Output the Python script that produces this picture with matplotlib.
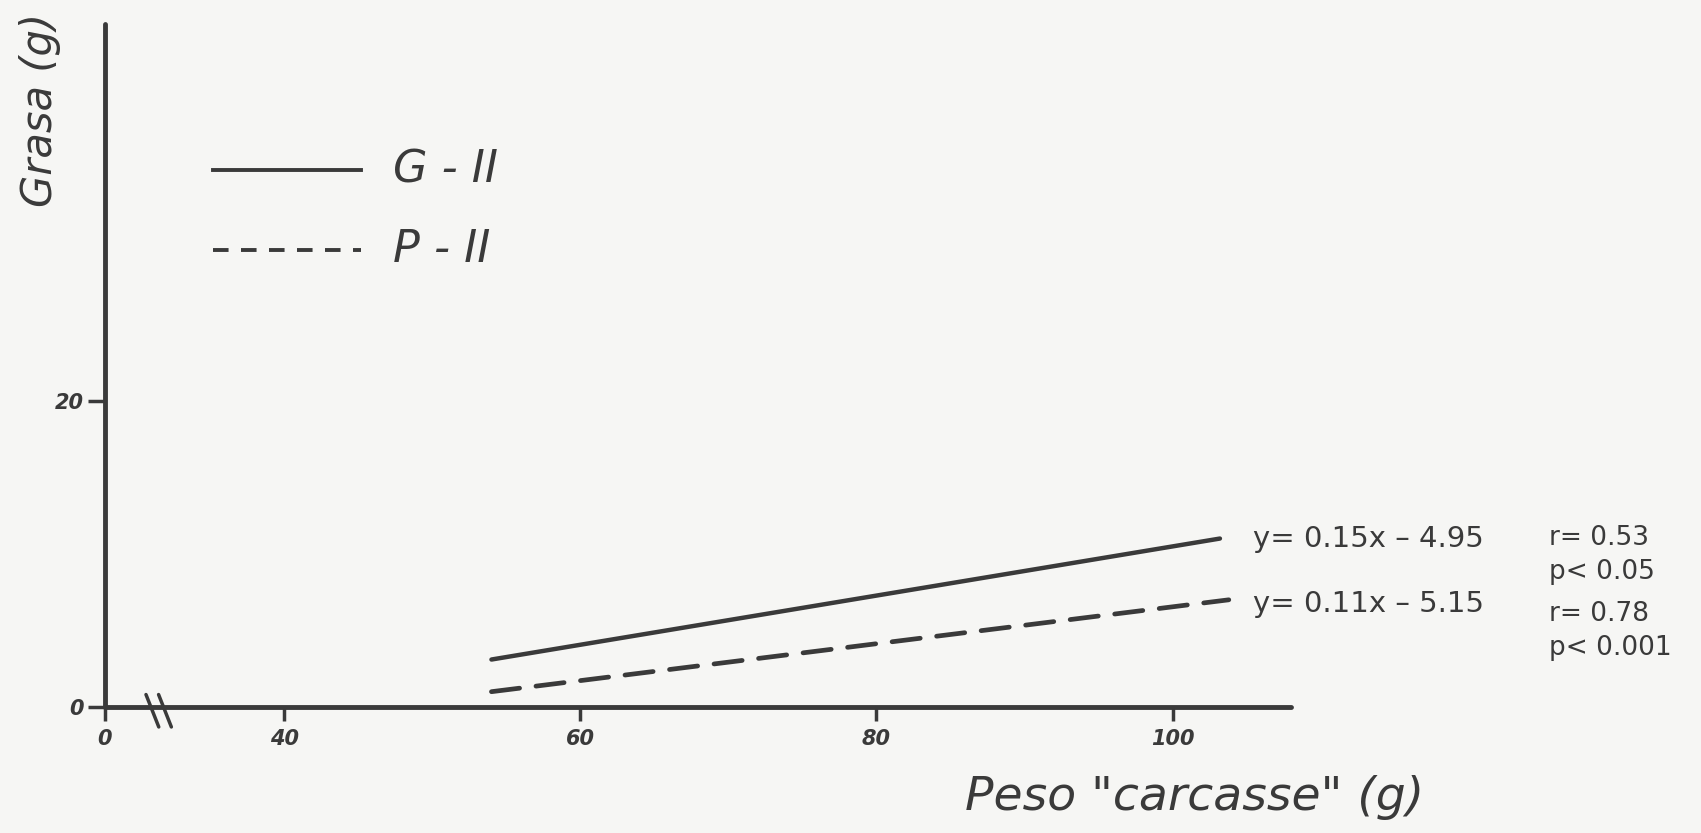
import matplotlib.pyplot as plt
import numpy as np

# regression lines, endpoints
x_g2 = [54.0, 103.2]
y_g2 = [3.1, 11.0]
x_p2 = [54.0, 103.8]
y_p2 = [1.0, 7.0]

xticks = [40, 60, 80, 100]
yticks = [0, 20]
x_zero = 27.9      # where "0" sits on the broken x axis
x_break = 31.1
xlim = (x_zero, 108.0)
ylim = (0, 44.6)

eq_g2 = "y= 0.15x – 4.95"
eq_p2 = "y= 0.11x – 5.15"
stats_g2 = ["r= 0.53", "p< 0.05"]
stats_p2 = ["r= 0.78", "p< 0.001"]

ink = '#3a3a3a'
paper = '#f6f6f4'

W, H = 1701, 833
fig = plt.figure(figsize=(W/100, H/100), dpi=100, facecolor=paper)
ax = fig.add_axes([105/W, (H-707)/H, (1291-105)/W, (707-24)/H])
ax.set_facecolor(paper)
ax.set_xlim(*xlim)
ax.set_ylim(*ylim)

ax.plot(x_g2, y_g2, color=ink, lw=3.2, solid_capstyle='round')
ax.plot(x_p2, y_p2, color=ink, lw=3.4, ls=(0, (6, 3.5)), dash_capstyle='round')

for s in ['top', 'right']:
    ax.spines[s].set_visible(False)
for s in ['left', 'bottom']:
    ax.spines[s].set_linewidth(3.5)
    ax.spines[s].set_color(ink)
    ax.spines[s].set_capstyle('round')

ax.set_xticks([x_zero] + xticks)
ax.set_xticklabels(['0'] + [str(t) for t in xticks])
ax.set_yticks(yticks)
ax.set_yticklabels([str(t) for t in yticks])
ax.tick_params(axis='x', direction='out', length=10, width=2.5, color=ink, pad=6,
               labelsize=15, labelcolor=ink)
ax.tick_params(axis='y', direction='out', length=12, width=2.5, color=ink, pad=3,
               labelsize=15, labelcolor=ink)
for lab in ax.get_xticklabels() + ax.get_yticklabels():
    lab.set_fontstyle('italic')
    lab.set_fontweight('bold')

# axis break marks "//"
trans = ax.get_xaxis_transform()
for dx in [0, 0.85]:
    xb = x_break - 0.5 + dx
    ax.annotate('', xy=(xb + 1.0, -0.033), xytext=(xb, 0.022), xycoords=trans,
                textcoords=trans, arrowprops=dict(arrowstyle='-', color=ink, lw=2.5),
                annotation_clip=False)

# legend drawn by hand like the original
lx0, lx1 = 213, 361
for ypix, ls, name in [(170, '-', 'G - II'), (250, (0, (4, 3.2)), 'P - II')]:
    fy = (H - ypix) / H
    fig.add_artist(plt.Line2D([lx0/W, lx1/W], [fy, fy], color=ink, lw=2.8, ls=ls))
    fig.text(393/W, fy, name, fontsize=32, style='italic', color=ink,
             va='center', ha='left')

# equations and stats
ax.text(x_g2[1] + 2.2, y_g2[1], eq_g2, fontsize=21, color=ink, va='center', ha='left')
ax.text(x_p2[1] + 1.6, y_p2[1] - 0.25, eq_p2, fontsize=21, color=ink, va='center', ha='left')
for i, s in enumerate(stats_g2):
    fig.text(1549/W, (H - 538 - 34*i)/H, s, fontsize=19, color=ink, va='center', ha='left')
for i, s in enumerate(stats_p2):
    fig.text(1549/W, (H - 614 - 34*i)/H, s, fontsize=19, color=ink, va='center', ha='left')

# axis titles
fig.text(40/W, (H - 110)/H, "Grasa (g)", fontsize=30, style='italic', color=ink,
         rotation=90, va='center', ha='center')
fig.text(1195/W, (H - 797)/H, 'Peso "carcasse" (g)', fontsize=34, style='italic',
         color=ink, va='center', ha='center')

fig.savefig('out.png', dpi=100, facecolor=paper)
